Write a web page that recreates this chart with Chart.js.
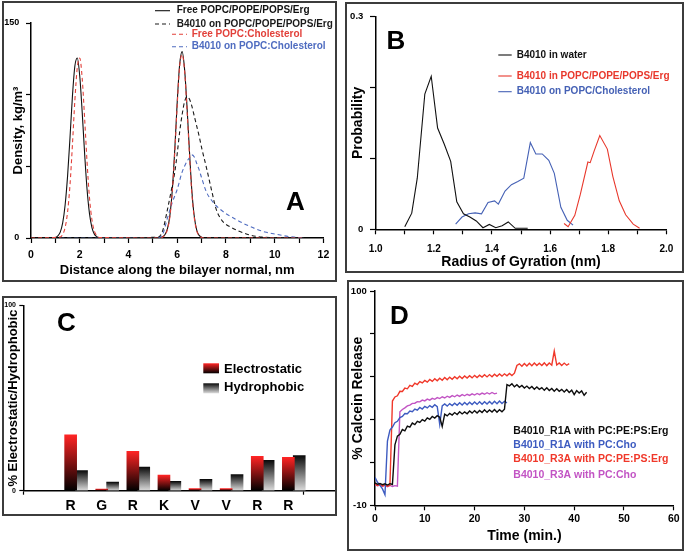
<!DOCTYPE html>
<html><head><meta charset="utf-8">
<script src="https://cdn.jsdelivr.net/npm/chart.js@4/dist/chart.umd.min.js"></script>
<style>
html,body{margin:0;padding:0;background:#fff;}
body{width:686px;height:552px;position:relative;overflow:hidden;}
.panel{position:absolute;box-sizing:border-box;border:2px solid #3c3c3c;background:#fff;}
.panel canvas{display:block;}
</style></head><body>
<div class="panel" style="left:2px;top:1px;width:335px;height:281px;"><canvas id="cA" width="331" height="277"></canvas></div>
<div class="panel" style="left:345px;top:2px;width:339px;height:271px;"><canvas id="cB" width="335" height="267"></canvas></div>
<div class="panel" style="left:2px;top:296px;width:335px;height:220px;"><canvas id="cC" width="331" height="216"></canvas></div>
<div class="panel" style="left:347px;top:280px;width:337px;height:271px;"><canvas id="cD" width="333" height="267"></canvas></div>
<script>
// ---------- Panel A: density profiles ----------
const freeErgX = [0,1.0,1.1,1.2,1.3,1.4,1.5,1.6,1.7,1.8,1.9,2.0,2.1,2.2,2.3,2.4,2.5,2.6,2.7,2.8,5.3,5.4,5.5,5.6,5.7,5.8,5.9,6.0,6.1,6.2,6.3,6.4,6.5,6.6,6.7,6.8,6.9,7.0,7.1,11.2];
const freeErgY = [0,0.4,1.4,4.1,10.5,23,43,70,99,120,125.6,113,88,59,34,17,7.3,2.7,0.9,0,0,0.8,2.5,6.5,16,34,62,95,121,130,118,92,61,33,15,5.5,1.8,0.5,0,0];
const onErgX = [1.2,5.2,5.4,5.6,5.8,5.9,6.0,6.1,6.2,6.3,6.4,6.5,6.6,6.7,6.8,6.9,7.0,7.2,7.4,7.6,7.8,8.0,8.2,8.5,9.0,9.5,10.0,11.2];
const onErgY = [0,0.5,5,20,37,46,59,74,86,95,98.5,97,92,85,78,71,63,49,34,20,13,9.5,7.5,5,2,0.6,0.2,0];
const freeCholX = [0,1.2,1.3,1.4,1.5,1.6,1.7,1.8,1.9,2.0,2.1,2.2,2.3,2.4,2.5,2.6,2.7,2.8,5.3,5.4,5.5,5.6,5.7,5.8,5.9,6.0,6.1,6.2,6.3,6.4,6.5,6.6,6.7,6.8,6.9,7.0,7.1,11.2];
const freeCholY = [0,0.7,2.5,7.3,18,37,65,96,119,125.6,111.5,83.5,53,28,12.7,4.9,1.6,0.4,0,0.6,2.2,6,15,33,60,93,120,128,117,90,59,31,14,5,1.6,0.4,0,0];
const onCholX = [1.2,5.2,5.4,5.6,5.8,6.0,6.2,6.3,6.4,6.5,6.6,6.7,6.8,6.9,7.0,7.2,7.4,7.6,7.8,8.0,8.4,8.8,9.2,9.6,10.0,10.4,10.8,11.2];
const onCholY = [0,0.3,2.5,14,25,34,46,50,53.5,56,58,56.5,52,47.5,42,32,26.5,22.5,19.5,17,13,9.5,6.5,4.2,2.8,1.5,0.6,0];

// ---------- Panel B: radius of gyration ----------
const rgWaterX = [1.10,1.124,1.143,1.169,1.191,1.213,1.236,1.258,1.279,1.302,1.324,1.346,1.369,1.391,1.413,1.435,1.456,1.480,1.50,1.523];
const rgWaterY = [0.0036,0.0227,0.072,0.1906,0.2156,0.1427,0.1198,0.0957,0.0387,0.0219,0.0173,0.0118,0.0022,0.0068,0.0022,0.005,0.0104,0.0014,0.0014,0.0014];
const rgErgX = [1.648,1.662,1.685,1.704,1.730,1.738,1.752,1.771,1.797,1.816,1.838,1.860,1.886,1.908];
const rgErgY = [0.0082,0.0036,0.0196,0.0492,0.0948,0.0939,0.1108,0.1322,0.113,0.0743,0.0401,0.0205,0.0073,0.0014];
const rgCholX = [1.275,1.297,1.3195,1.342,1.364,1.3865,1.409,1.422,1.445,1.467,1.489,1.5095,1.532,1.551,1.573,1.5955,1.6145,1.637,1.659,1.679];
const rgCholY = [0.0073,0.0173,0.0218,0.0232,0.0218,0.0378,0.0401,0.0355,0.0538,0.0629,0.0674,0.072,0.1222,0.1062,0.1062,0.0971,0.0788,0.031,0.0127,0.0059];

// ---------- Panel C: interaction contributions ----------
const residues = ['R','G','R','K','V','V','R','R'];
const electrostatic = [30.1,0.9,21.3,8.4,1.2,1.2,18.5,18.0];
const hydrophobic = [10.9,4.6,12.8,5.0,6.1,8.7,16.4,19.0];

// ---------- Panel D: calcein release ----------
const timeMin = [0,0.5,1,1.5,2,2.5,3,3.5,4,4.5,5,5.5,6,6.5,7,7.5,8,8.5,9,9.5,10,10.5,11,11.5,12,12.5,13,13.5,14,14.5,15,15.5,16,16.5,17,17.5,18,18.5,19,19.5,20,20.5,21,21.5,22,22.5,23,23.5,24,24.5,25,25.5,26,26.5,27,27.5,28,28.5,29,29.5,30,30.5,31,31.5,32,32.5,33,33.5,34,34.5,35,35.5,36,36.5,37,37.5,38,38.5,39,39.5,40,40.5,41,41.5,42,42.5];
const r1aErg = [1.5,0.8,1.2,0.6,1.0,0.4,1.1,0.7,21.0,25.5,26.4,28.9,28.2,30.6,30.1,32.2,31.4,33.1,32.5,34.0,33.2,34.9,34.1,35.6,34.8,36.0,35.2,30.5,36.8,35.9,37.2,36.3,37.6,36.6,38.0,36.9,37.9,37.0,38.4,37.3,38.6,37.4,38.7,37.6,39.0,37.7,38.9,37.9,39.2,37.8,39.1,38.0,39.3,52.0,51.3,52.4,50.8,51.9,50.6,51.5,50.2,51.2,49.9,51.0,49.6,50.7,49.5,50.4,49.0,50.3,48.9,50.0,48.6,49.8,48.5,49.5,48.2,49.4,47.9,49.1,46.8,48.9,47.6,48.7,46.5,48.0];
const r1aCho = [4.3,1.8,0.2,-1.6,-4.6,23.0,28.6,30.2,32.4,33.1,35.0,35.6,37.1,37.0,38.4,38.0,39.4,38.8,40.2,39.4,40.8,40.0,41.2,40.3,41.6,40.6,31.5,41.0,42.0,40.9,42.2,41.2,42.4,41.3,42.6,41.5,42.8,41.6,42.9,41.7,43.0,41.8,43.1,41.9,43.2,42.0,43.3,42.0,43.4,42.1,43.5,42.2,43.4,42.6];
const r3aErg = [0.8,0.2,0.6,-0.1,0.4,-0.2,0.3,43.5,45.6,46.2,48.5,48.4,50.2,49.8,51.6,51.0,52.7,52.0,53.5,52.8,54.1,53.2,54.6,53.6,55.0,53.9,55.2,54.2,55.6,54.4,55.8,54.7,56.0,54.9,56.2,55.1,56.4,55.3,56.5,55.4,56.7,55.6,56.8,55.8,57.0,55.9,57.1,56.0,57.3,56.2,57.4,56.3,57.5,56.5,57.7,56.6,57.8,61.8,62.6,61.4,62.8,61.5,62.9,61.6,63.0,61.7,62.9,61.8,63.1,61.7,63.0,61.9,69.2,62.0,63.1,61.8,63.0,61.9,62.7];
const r3aCho = [0.6,0.0,0.4,-0.3,0.3,-0.4,0.2,-0.3,0.1,-0.2,38.0,39.2,40.0,41.0,41.4,42.3,42.4,43.2,43.1,44.0,43.6,44.5,44.0,44.9,44.4,45.3,44.8,45.7,45.1,46.0,45.4,46.3,45.7,46.6,45.9,46.8,46.2,47.0,46.4,47.2,46.6,47.4,46.8,47.6,47.0,47.8,47.1,47.9,47.2,47.6];

// ---------- common setup ----------
const FAM = '"Liberation Sans", Arial, Helvetica, sans-serif';
Chart.defaults.font.family = FAM;
Chart.defaults.color = '#000';
Chart.defaults.animation = false;

const pairs = (xs, ys) => ys.slice(0, xs.length).map((y, i) => ({x: xs[i], y}));

function axis(o) {
  return {
    type: 'linear', min: o.min, max: o.max,
    afterFit: s => { if (o.isY) s.width = o.size; else s.height = o.size; },
    border: {display: true, color: '#000', width: 1.5},
    grid: {display: true, drawOnChartArea: false, drawTicks: true, tickLength: o.tickLen, tickWidth: 1.2, tickColor: o.tickColor || '#000'},
    ticks: {stepSize: o.step, autoSkip: false, maxRotation: 0, minRotation: 0, padding: o.pad,
            font: {size: o.fontSize, weight: 'bold'}, color: '#000', callback: o.labels},
    title: o.title ? {display: true, text: o.title, color: '#000', font: {size: o.titleSize, weight: 'bold'},
            padding: o.isY ? {top: o.titlePad, bottom: 0} : {top: 0, bottom: o.titlePad}} : {display: false}
  };
}

const decor = {
  id: 'decor',
  afterDraw(chart, args, o) {
    const c = chart.ctx;
    c.save();
    if (o.letter) {
      const L = o.letter;
      c.font = 'bold ' + L.size + 'px ' + FAM;
      c.fillStyle = '#000'; c.textAlign = 'left'; c.textBaseline = 'alphabetic';
      c.fillText(L.text, chart.scales.x.getPixelForValue(L.at[0]), chart.scales.y.getPixelForValue(L.at[1]));
    }
    if (o.legend) {
      const G = o.legend;
      c.font = 'bold ' + G.size + 'px ' + FAM;
      c.textAlign = 'left'; c.textBaseline = 'middle';
      G.rows.forEach(r => {
        const ds = chart.data.datasets[r.ds];
        if (r.x2 !== undefined) {
          c.strokeStyle = ds.borderColor; c.lineWidth = ds.borderWidth || 1;
          c.setLineDash(ds.borderDash || []);
          c.beginPath(); c.moveTo(r.x1, r.y); c.lineTo(r.x2, r.y); c.stroke();
          c.setLineDash([]);
        }
        if (r.box) {
          const [bx, by, bw, bh] = r.box;
          const g = c.createLinearGradient(0, by, 0, by + bh);
          g.addColorStop(0, ds.stops[0]); g.addColorStop(1, ds.stops[1]);
          c.fillStyle = g; c.fillRect(bx, by, bw, bh);
        }
        c.fillStyle = r.color || ds.borderColor;
        c.fillText(ds.label, r.tx, r.y);
      });
    }
    c.restore();
  }
};

const basePlugins = {legend: {display: false}, tooltip: {enabled: false}};

// ---------- Chart A ----------
const lineA = (label, xs, ys, color, dash, order) => ({
  label, data: pairs(xs, ys), borderColor: color, borderWidth: 1.1, borderDash: dash,
  pointRadius: 0, cubicInterpolationMode: 'monotone', fill: false, order
});
new Chart(document.getElementById('cA'), {
  type: 'line',
  data: {datasets: [
    lineA('Free POPC/POPE/POPS/Erg', freeErgX, freeErgY, '#111111', [], 3),
    lineA('B4010 on POPC/POPE/POPS/Erg', onErgX, onErgY, '#1a1a1a', [4, 3], 1),
    lineA('Free POPC:Cholesterol', freeCholX, freeCholY, '#e2403a', [4, 3], 0),
    lineA('B4010 on POPC:Cholesterol', onCholX, onCholY, '#4f6cc0', [4, 3], 2)
  ]},
  options: {
    responsive: false, animation: false,
    layout: {padding: {top: 20, right: 7, left: 0, bottom: 0}, autoPadding: false},
    scales: {
      x: axis({min: 0, max: 12, step: 1, labels: v => (v % 2 === 0 ? String(v) : ''), tickLen: 5, pad: 5.7, fontSize: 10.5, size: 42,
               title: 'Distance along the bilayer normal, nm', titleSize: 13, titlePad: 2.2}),
      y: axis({isY: true, min: 0, max: 150, step: 50, labels: v => (v === 0 || v === 150 ? String(v) : ''), tickLen: 5, pad: 6.7, fontSize: 9, size: 27,
               title: 'Density, kg/m³', titleSize: 13, titlePad: 6.2})
    },
    plugins: Object.assign({}, basePlugins, {decor: {
      letter: {text: 'A', at: [10.46, 19.5], size: 26},
      legend: {size: 10, rows: [
        {ds: 0, x1: 151, x2: 166, y: 7.7, tx: 172.7},
        {ds: 1, x1: 151, x2: 166, y: 21, tx: 172.7},
        {ds: 2, x1: 168, x2: 183, y: 31.3, tx: 187.7},
        {ds: 3, x1: 168, x2: 183, y: 43.7, tx: 187.7}
      ]}
    }})
  },
  plugins: [decor]
});

// ---------- Chart B ----------
const lineB = (label, xs, ys, color) => ({
  label, data: pairs(xs, ys), borderColor: color, borderWidth: 1.1, pointRadius: 0, tension: 0, fill: false
});
new Chart(document.getElementById('cB'), {
  type: 'line',
  data: {datasets: [
    lineB('B4010 in water', rgWaterX, rgWaterY, '#111111'),
    lineB('B4010 in POPC/POPE/POPS/Erg', rgErgX, rgErgY, '#e8382c'),
    lineB('B4010 on POPC/Cholesterol', rgCholX, rgCholY, '#4561b5')
  ]},
  options: {
    responsive: false, animation: false,
    layout: {padding: {top: 6, right: 8, left: 0, bottom: 0}, autoPadding: false},
    scales: {
      x: axis({min: 1, max: 2, step: 0.1, labels: v => (Math.round(v * 10) % 2 === 0 ? v.toFixed(1) : ''), tickLen: 5, pad: 8.7, fontSize: 10, size: 41.7,
               title: 'Radius of Gyration (nm)', titleSize: 14, titlePad: 0.9}),
      y: axis({isY: true, min: 0, max: 0.3, step: 0.1, labels: v => (Math.abs(v) < 1e-9 ? '0' : (Math.abs(v - 0.3) < 1e-9 ? '0.3' : '')), tickLen: 5.7, pad: 6.7, fontSize: 9.5, size: 28.7,
               title: 'Probability', titleSize: 14, titlePad: 2.9})
    },
    plugins: Object.assign({}, basePlugins, {decor: {
      letter: {text: 'B', at: [1.037, 0.2544], size: 26},
      legend: {size: 10, rows: [
        {ds: 0, x1: 151.3, x2: 164.7, y: 51, tx: 169.7},
        {ds: 1, x1: 151.3, x2: 164.7, y: 72, tx: 169.7},
        {ds: 2, x1: 151.3, x2: 164.7, y: 87.7, tx: 169.7}
      ]}
    }})
  },
  plugins: [decor]
});

// ---------- Chart C ----------
const electroStops = ['#ff2424', '#000000'];
const hydroStops = ['#0a0a0a', '#dcdcdc'];
const PAIR_SHIFT = 0.35;
function barGradient(stops) {
  return ctx => {
    const chart = ctx.chart;
    if (!chart.chartArea || ctx.type !== 'data' || !ctx.raw) return stops[0];
    const y = chart.scales.y;
    const top = y.getPixelForValue(ctx.raw.y), base = y.getPixelForValue(0);
    const g = chart.ctx.createLinearGradient(0, top, 0, base);
    g.addColorStop(0, stops[0]); g.addColorStop(1, stops[1]);
    return g;
  };
}
new Chart(document.getElementById('cC'), {
  type: 'bar',
  data: {datasets: [
    {label: 'Electrostatic', data: residues.map((r, i) => ({x: i + 1, y: electrostatic[i]})), stops: electroStops,
     backgroundColor: barGradient(electroStops), borderWidth: 0, barThickness: 12, grouped: false},
    {label: 'Hydrophobic', data: residues.map((r, i) => ({x: i + 1 + PAIR_SHIFT, y: hydrophobic[i]})), stops: hydroStops,
     backgroundColor: barGradient(hydroStops), borderWidth: 0, barThickness: 12, grouped: false}
  ]},
  options: {
    responsive: false, animation: false,
    layout: {padding: {top: 5.3, right: 0, left: 0, bottom: 0}, autoPadding: false},
    scales: {
      x: axis({min: 0, max: 9, step: 1, labels: v => residues[v - 1] || '', tickLen: 4, pad: 3, fontSize: 14, size: 23.3,
               tickColor: ctx => (ctx.tick && (ctx.tick.value === 0 || ctx.tick.value === 9)) ? '#000' : 'rgba(0,0,0,0)'}),
      y: axis({isY: true, min: 0, max: 100, step: 100, labels: v => String(v), tickLen: 4.7, pad: 3.3, fontSize: 7, size: 20,
               title: '% Electrostatic/Hydrophobic', titleSize: 13, titlePad: 1.5})
    },
    plugins: Object.assign({}, basePlugins, {decor: {
      letter: {text: 'C', at: [0.56, 86.1], size: 26},
      legend: {size: 13, rows: [
        {ds: 0, box: [199.3, 65.3, 15.7, 10], tx: 220, y: 71.3, color: '#000'},
        {ds: 1, box: [199.3, 85.3, 15.7, 10], tx: 220, y: 89.8, color: '#000'}
      ]}
    }})
  },
  plugins: [decor]
});

// ---------- Chart D ----------
const lineD = (label, ys, color) => ({
  label, data: pairs(timeMin, ys), borderColor: color, borderWidth: 1.4, pointRadius: 0, tension: 0, fill: false
});
new Chart(document.getElementById('cD'), {
  type: 'line',
  data: {datasets: [
    lineD('B4010_R1A with PC:PE:PS:Erg', r1aErg, '#0d0d0d'),
    lineD('B4010_R1A with PC:Cho', r1aCho, '#3d5bc0'),
    lineD('B4010_R3A with PC:PE:PS:Erg', r3aErg, '#f0382a'),
    lineD('B4010_R3A with PC:Cho', r3aCho, '#c254c4')
  ]},
  options: {
    responsive: false, animation: false,
    layout: {padding: {top: 4, right: 7.7, left: 0, bottom: 0}, autoPadding: false},
    scales: {
      x: axis({min: 0, max: 60, step: 10, labels: v => String(v), tickLen: 5, pad: 2.4, fontSize: 10.5, size: 43.7,
               title: 'Time (min.)', titleSize: 14, titlePad: 4.8}),
      y: axis({isY: true, min: -10, max: 100, step: 22, labels: v => (v === 100 || v === -10 ? String(v) : ''), tickLen: 5, pad: 3.3, fontSize: 9.5, size: 26,
               title: '% Calcein Release', titleSize: 14, titlePad: 0.9})
    },
    plugins: Object.assign({}, basePlugins, {decor: {
      letter: {text: 'D', at: [3.0, 82.9], size: 26},
      legend: {size: 10.5, rows: [
        {ds: 0, tx: 164.3, y: 149},
        {ds: 1, tx: 164.3, y: 163},
        {ds: 2, tx: 164.3, y: 177.3},
        {ds: 3, tx: 164.3, y: 193}
      ]}
    }})
  },
  plugins: [decor]
});
</script>
</body></html>
